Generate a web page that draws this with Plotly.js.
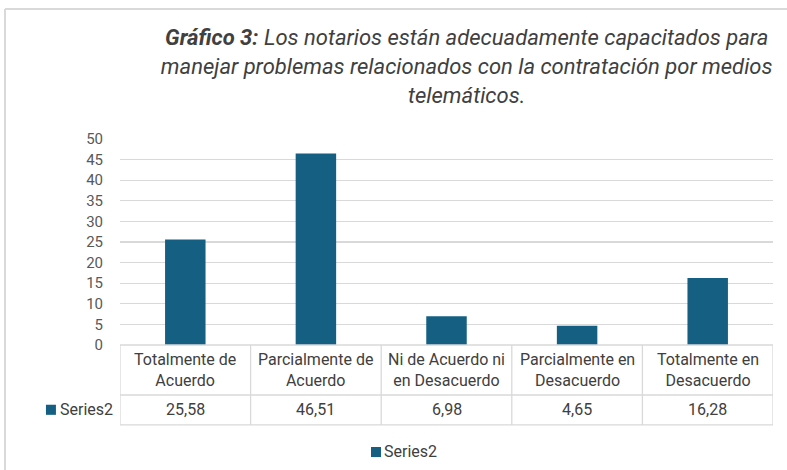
<!DOCTYPE html>
<html>
<head>
<meta charset="utf-8">
<script src="https://cdn.plot.ly/plotly-3.0.1.min.js"></script>
<style>html,body{margin:0;padding:0;background:#fff;}#chart{width:787px;height:470px;}</style>
</head>
<body>
<div id="chart"></div>
<script>
var categories = ["Totalmente de Acuerdo", "Parcialmente de Acuerdo", "Ni de Acuerdo ni en Desacuerdo", "Parcialmente en Desacuerdo", "Totalmente en Desacuerdo"];
var headerLabels = ["Totalmente de<br>Acuerdo", "Parcialmente de<br>Acuerdo", "Ni de Acuerdo ni<br>en Desacuerdo", "Parcialmente en<br>Desacuerdo", "Totalmente en<br>Desacuerdo"];
var values = [25.58, 46.51, 6.98, 4.65, 16.28];
var seriesName = "Series2";
var yTicks = [0, 5, 10, 15, 20, 25, 30, 35, 40, 45, 50];

var barColor = "#156082";
var lineColor = "#D9D9D9";
var textColor = "#404040";
var font = "Roboto, 'Noto Sans', sans-serif";

function fmt(v){ return v.toFixed(2).replace('.', ','); }

var trace = {
  type: "bar",
  x: categories,
  y: values,
  name: seriesName,
  marker: {color: barColor},
  hoverinfo: "none",
  showlegend: false
};

// geometry (paper coords, plot area 120..773 x 139..345 px)
var hdrBottom = -0.2427, rowBottom = -0.388, leftTable = -1.113;

var shapes = [];
shapes.push({type:"line", xref:"x", yref:"paper", x0:-0.5, x1:4.5, y0:0, y1:0, line:{color:lineColor, width:1.3}});
shapes.push({type:"line", xref:"x", yref:"paper", x0:leftTable, x1:4.5, y0:hdrBottom, y1:hdrBottom, line:{color:lineColor, width:1.3}});
shapes.push({type:"line", xref:"x", yref:"paper", x0:leftTable, x1:4.5, y0:rowBottom, y1:rowBottom, line:{color:lineColor, width:1.3}});
for (var i = 0; i <= categories.length; i++) {
  shapes.push({type:"line", xref:"x", yref:"paper", x0:i-0.5, x1:i-0.5, y0:0, y1:rowBottom, line:{color:lineColor, width:1.3}});
}
shapes.push({type:"line", xref:"x", yref:"paper", x0:leftTable, x1:leftTable, y0:hdrBottom, y1:rowBottom, line:{color:lineColor, width:1.3}});
// outer chart frame (top and left)
shapes.push({type:"line", xref:"paper", yref:"paper", x0:-0.1761, x1:1.03, y0:1.631, y1:1.631, line:{color:"#D9D9D9", width:2}});
shapes.push({type:"line", xref:"paper", yref:"paper", x0:-0.1761, x1:-0.1761, y0:1.631, y1:-0.62, line:{color:"#D9D9D9", width:2}});
// legend key in table
shapes.push({type:"rect", xref:"paper", yref:"paper", x0:-0.1134, x1:-0.0981, y0:-0.290, y1:-0.339, fillcolor:barColor, line:{width:0}});
// bottom legend key
shapes.push({type:"rect", xref:"paper", yref:"paper", x0:0.3844, x1:0.3997, y0:-0.495, y1:-0.544, fillcolor:barColor, line:{width:0}});

var annotations = [];
for (var j = 0; j < categories.length; j++) {
  annotations.push({xref:"x", yref:"paper", x:categories[j], y:hdrBottom/2, text:headerLabels[j], showarrow:false,
    font:{family:font, size:16, color:textColor}, align:"center", yanchor:"middle"});
  annotations.push({xref:"x", yref:"paper", x:categories[j], y:(hdrBottom+rowBottom)/2, text:fmt(values[j]), showarrow:false,
    font:{family:font, size:16, color:textColor}, yanchor:"middle"});
}
annotations.push({xref:"paper", yref:"paper", x:-0.0943, y:(hdrBottom+rowBottom)/2, text:seriesName, showarrow:false, xanchor:"left",
  font:{family:font, size:16, color:textColor}, yanchor:"middle"});
annotations.push({xref:"paper", yref:"paper", x:0.4012, y:-0.519, text:seriesName, showarrow:false, xanchor:"left",
  font:{family:font, size:16, color:textColor}, yanchor:"middle"});

var layout = {
  width: 787, height: 470,
  margin: {l:120, r:14, t:139, b:125, pad:0, autoexpand:false},
  paper_bgcolor: "#fff", plot_bgcolor: "#fff",
  title: {
    text: "<b><i>Gráfico 3:</i></b><i> Los notarios están adecuadamente capacitados para<br>manejar problemas relacionados con la contratación por medios<br>telemáticos.</i>",
    x: 0.593, xanchor: "center", xref: "container",
    y: 0.9035, yanchor: "top", yref: "container",
    font: {family: font, size: 22, color: textColor}
  },
  bargap: 0.69,
  showlegend: false,
  xaxis: {type:"category", range:[-0.5, 4.5], autorange:false, showticklabels:false, showgrid:false, zeroline:false, showline:false, ticks:"", fixedrange:true},
  yaxis: {range:[0,50], autorange:false, tickvals:yTicks, ticktext:yTicks.map(String), showgrid:true, gridcolor:lineColor, gridwidth:1.3,
    zeroline:false, showline:false, ticks:"", ticklabelstandoff:16,
    tickfont:{family:font, size:15, color:"#595959"}, fixedrange:true},
  shapes: shapes,
  annotations: annotations
};

Plotly.newPlot("chart", [trace], layout, {displayModeBar:false, staticPlot:true});
</script>
</body>
</html>
